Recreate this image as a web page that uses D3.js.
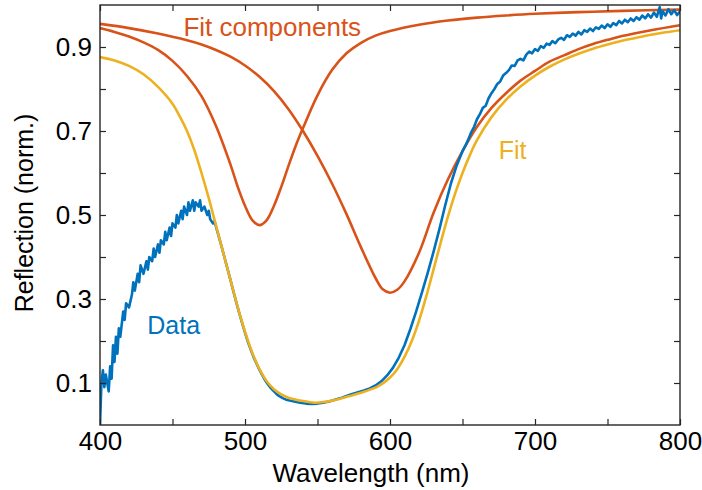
<!DOCTYPE html>
<html>
<head>
<meta charset="utf-8">
<script src="https://cdn.jsdelivr.net/npm/d3@7"></script>
<style>
  body { margin: 0; background: #fff; }
  text { font-family: "Liberation Sans", Arial, sans-serif; }
</style>
</head>
<body>
<div id="chart"></div>
<script>
// wavelength (nm) / reflection pairs
var dataWl = [400,401,402,403,404,405,406,407,408,409,410,411,412,413,414,416,417,418,420,422,423,424,426,427,428,430,432,433,434,436,437,438,440,441,442,444,445,446,448,449,450,452,453,454,456,457,458,460,461,462,464,465,466,468,469,470,472,474,475,476,478,479,
  480,482,484,486,488,490,492,494,496,498,500,502,504,506,508,510,512,514,516,518,520,522,524,526,528,530,534,538,542,546,550,554,558,562,566,570,574,578,582,586,590,594,598,602,606,610,614,618,622,626,630,634,638,642,646,
  650,652,654,656,658,660,662,664,666,668,670,672,674,676,678,680,682,684,686,688,690,692,694,696,698,700,702,704,706,708,710,712,714,716,718,720,722,724,726,728,730,732,734,736,738,740,742,744,746,748,750,752,754,756,758,760,762,764,766,768,770,772,774,776,778,780,782,784,786,787,788,790,792,794,796,798,800];
var dataR = [0.00,0.10,0.13,0.09,0.12,0.10,0.08,0.14,0.11,0.19,0.15,0.21,0.17,0.23,0.21,0.27,0.25,0.29,0.28,0.31,0.34,0.32,0.36,0.34,0.38,0.36,0.39,0.37,0.40,0.39,0.42,0.40,0.43,0.41,0.44,0.43,0.46,0.44,0.47,0.45,0.48,0.47,0.50,0.48,0.51,0.49,0.52,0.50,0.53,0.51,0.535,0.51,0.53,0.52,0.535,0.51,0.52,0.50,0.51,0.49,0.48,0.485,
  0.472,0.448,0.423,0.397,0.371,0.345,0.318,0.292,0.267,0.243,0.22,0.198,0.179,0.161,0.146,0.131,0.118,0.106,0.096,0.087,0.08,0.073,0.068,0.064,0.061,0.059,0.056,0.053,0.051,0.05,0.051,0.053,0.056,0.06,0.064,0.069,0.074,0.078,0.082,0.087,0.094,0.104,0.118,0.136,0.16,0.19,0.228,0.27,0.315,0.362,0.412,0.465,0.522,0.575,0.618,
  0.652,0.665,0.68,0.697,0.71,0.728,0.74,0.755,0.76,0.778,0.79,0.80,0.812,0.818,0.832,0.838,0.845,0.856,0.855,0.868,0.872,0.868,0.882,0.889,0.885,0.895,0.891,0.902,0.898,0.908,0.905,0.914,0.909,0.918,0.922,0.917,0.928,0.924,0.932,0.927,0.936,0.93,0.94,0.936,0.944,0.938,0.947,0.943,0.951,0.945,0.954,0.948,0.957,0.952,0.962,0.956,0.965,0.959,0.968,0.962,0.971,0.965,0.975,0.968,0.978,0.970,0.982,0.972,0.995,0.968,0.985,0.975,0.99,0.978,0.988,0.976,0.985];

var fitWl = [400,410,420,430,440,450,455,460,465,470,475,480,485,490,495,500,505,510,515,520,525,530,540,548,555,560,570,580,590,595,600,605,610,615,620,625,630,635,640,645,650,655,660,670,680,690,700,710,720,730,740,750,760,770,780,790,800];
var fitR = [0.876,0.868,0.855,0.835,0.805,0.765,0.735,0.70,0.655,0.60,0.54,0.475,0.41,0.345,0.28,0.222,0.172,0.133,0.104,0.085,0.073,0.065,0.057,0.053,0.055,0.058,0.067,0.077,0.089,0.099,0.113,0.133,0.162,0.20,0.248,0.306,0.37,0.435,0.497,0.552,0.60,0.642,0.678,0.733,0.774,0.806,0.832,0.853,0.87,0.884,0.896,0.906,0.915,0.922,0.929,0.935,0.94];

var comp1Wl = [400,410,420,430,440,450,460,470,480,490,495,500,505,510,515,520,525,530,535,540,550,560,570,580,590,600,620,640,660,680,700,730,760,800];
var comp1R = [0.945,0.936,0.925,0.911,0.893,0.867,0.831,0.783,0.712,0.62,0.567,0.522,0.488,0.476,0.488,0.522,0.567,0.617,0.665,0.707,0.785,0.845,0.885,0.91,0.927,0.938,0.953,0.963,0.97,0.975,0.979,0.983,0.986,0.989];

var comp2Wl = [400,420,440,460,470,480,490,500,510,520,530,540,550,560,570,580,590,595,600,605,610,620,630,640,650,660,670,680,690,700,710,720,730,740,750,760,780,800];
var comp2R = [0.955,0.945,0.932,0.916,0.906,0.893,0.877,0.856,0.829,0.795,0.752,0.70,0.641,0.575,0.502,0.423,0.35,0.323,0.315,0.322,0.342,0.41,0.505,0.585,0.652,0.71,0.755,0.79,0.82,0.843,0.865,0.88,0.895,0.907,0.917,0.926,0.94,0.952];

var xTicks = [400,450,500,550,600,650,700,750,800];
var xTickLabels = ["400","","500","","600","","700","","800"];
var yTicks = [0.1,0.2,0.3,0.4,0.5,0.6,0.7,0.8,0.9];
var yTickLabels = ["0.1","","0.3","","0.5","","0.7","","0.9"];

var width = 702, height = 490;
var margin = {top: 5, right: 22, bottom: 65, left: 100};
var w = width - margin.left - margin.right,
    h = height - margin.top - margin.bottom;

var x = d3.scaleLinear().domain([400, 800]).range([0, w]);
var y = d3.scaleLinear().domain([0, 1]).range([h, 0]);

var svg = d3.select("#chart").append("svg")
    .attr("width", width)
    .attr("height", height)
  .append("g")
    .attr("transform", "translate(" + margin.left + "," + margin.top + ")");

svg.append("defs").append("clipPath").attr("id", "clip")
  .append("rect").attr("width", w).attr("height", h);

function pairs(xs, ys) {
  return xs.map(function(v, i) { return [v, ys[i]]; });
}

var smooth = d3.line()
    .x(function(d) { return x(d[0]); })
    .y(function(d) { return y(d[1]); })
    .curve(d3.curveCatmullRom.alpha(0.5));

var jagged = d3.line()
    .x(function(d) { return x(d[0]); })
    .y(function(d) { return y(d[1]); });

var plot = svg.append("g").attr("clip-path", "url(#clip)");

// fit components
plot.append("path").datum(pairs(comp1Wl, comp1R))
    .attr("fill", "none").attr("stroke", "#D95319").attr("stroke-width", 2.6)
    .attr("d", smooth);
plot.append("path").datum(pairs(comp2Wl, comp2R))
    .attr("fill", "none").attr("stroke", "#D95319").attr("stroke-width", 2.6)
    .attr("d", smooth);

// data
plot.append("path").datum(pairs(dataWl, dataR))
    .attr("fill", "none").attr("stroke", "#0072BD").attr("stroke-width", 2.6)
    .attr("stroke-linejoin", "round")
    .attr("d", jagged);

// fit
plot.append("path").datum(pairs(fitWl, fitR))
    .attr("fill", "none").attr("stroke", "#EDB120").attr("stroke-width", 2.6)
    .attr("d", smooth);

// axes, ticks pointing inward on all four sides
var axisColor = "#262626";
function styleAxis(g) {
  g.select(".domain").remove();
  g.selectAll(".tick line").attr("stroke", axisColor).attr("stroke-width", 1.2);
  g.selectAll(".tick text").attr("fill", "#000").style("font-size", "26px")
    .style("font-family", "'Liberation Sans', Arial, sans-serif");
}

svg.append("g")
    .attr("transform", "translate(0," + h + ")")
    .call(d3.axisBottom(x).tickValues(xTicks).tickSizeInner(-6).tickSizeOuter(0).tickPadding(7)
      .tickFormat(function(d, i) { return xTickLabels[i]; }))
    .call(styleAxis);

svg.append("g")
    .call(d3.axisTop(x).tickValues(xTicks).tickSizeInner(-6).tickSizeOuter(0)
      .tickFormat(""))
    .call(styleAxis);

svg.append("g")
    .call(d3.axisLeft(y).tickValues(yTicks).tickSizeInner(-6).tickSizeOuter(0).tickPadding(8)
      .tickFormat(function(d, i) { return yTickLabels[i]; }))
    .call(styleAxis);

svg.append("g")
    .attr("transform", "translate(" + w + ",0)")
    .call(d3.axisRight(y).tickValues(yTicks).tickSizeInner(-6).tickSizeOuter(0)
      .tickFormat(""))
    .call(styleAxis);

svg.append("rect")
    .attr("width", w).attr("height", h)
    .attr("fill", "none").attr("stroke", axisColor).attr("stroke-width", 1.4);

// axis titles
svg.append("text")
    .attr("x", w / 2 - 19).attr("y", h + 57)
    .attr("text-anchor", "middle")
    .style("font-size", "26px")
    .text("Wavelength (nm)");

svg.append("text")
    .attr("transform", "translate(" + (-67) + "," + (h / 2 - 2) + ") rotate(-90)")
    .attr("text-anchor", "middle")
    .style("font-size", "25px")
    .text("Reflection (norm.)");

// curve labels
svg.append("text")
    .attr("x", x(457.5)).attr("y", y(0.926))
    .style("font-size", "26px").attr("fill", "#D95319")
    .text("Fit components");
svg.append("text")
    .attr("x", x(675)).attr("y", y(0.633))
    .style("font-size", "25px").attr("fill", "#EDB120")
    .text("Fit");
svg.append("text")
    .attr("x", x(432.6)).attr("y", y(0.217))
    .style("font-size", "25px").attr("fill", "#0072BD")
    .text("Data");
</script>
</body>
</html>
